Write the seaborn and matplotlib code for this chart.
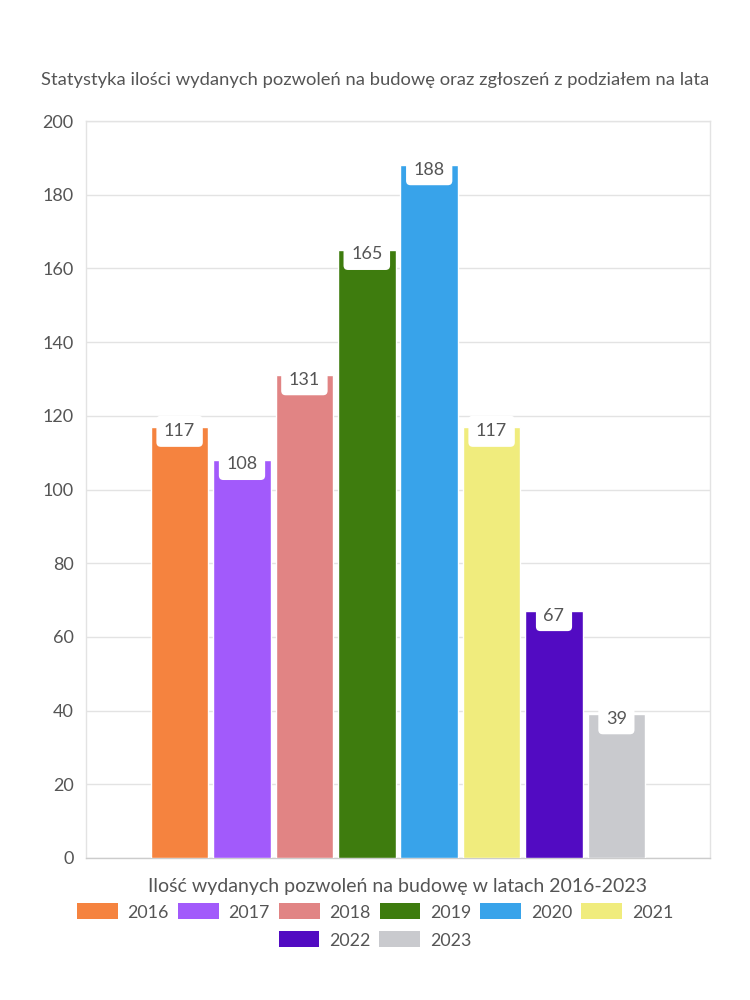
import matplotlib
matplotlib.use("Agg")
import matplotlib.pyplot as plt
import seaborn as sns
import pandas as pd
from matplotlib.patches import Patch

years = ["2016", "2017", "2018", "2019", "2020", "2021", "2022", "2023"]
values = [117, 108, 131, 165, 188, 117, 67, 39]
colors = ["#F5833F", "#A25AFB", "#E18484", "#3E7C0E", "#38A3EA", "#F0EC7D", "#520BC2", "#C9CACE"]
title = "Statystyka ilości wydanych pozwoleń na budowę oraz zgłoszeń z podziałem na lata"
xlabel = "Ilość wydanych pozwoleń na budowę w latach 2016-2023"
yticks = [0, 20, 40, 60, 80, 100, 120, 140, 160, 180, 200]

sns.set_style("white")
plt.rcParams["font.family"] = ["Lato", "DejaVu Sans"]
TXT = "#555555"
GRID = "#e3e3e3"

df = pd.DataFrame({"cat": [""] * len(years), "year": years, "value": values})

fig = plt.figure(figsize=(7.5, 10), dpi=100)
ax = fig.add_axes([86 / 750, 1 - 858 / 1000, (710 - 86) / 750, (858 - 121) / 1000])

sns.barplot(data=df, x="cat", y="value", hue="year", palette=colors, width=0.8,
            gap=0.08, saturation=1, legend=False, ax=ax, zorder=3)

ax.set_ylim(0, 200)
ax.set_xlim(-0.5, 0.5)
ax.set_yticks(yticks)
ax.set_yticklabels([str(t) for t in yticks], color=TXT, fontsize=13)
ax.set_xticks([-0.5, 0.5])
ax.set_xticklabels(["", ""])
ax.tick_params(axis="both", length=5, color=GRID, width=1)
ax.tick_params(axis="y", pad=4)
ax.yaxis.grid(True, color=GRID, linewidth=1, zorder=0)
ax.set_axisbelow(True)
for s in ax.spines.values():
    s.set_color(GRID)
    s.set_linewidth(1)
ax.spines["bottom"].set_color("#cccccc")
ax.set_ylabel("")
ax.set_xlabel(xlabel, color=TXT, fontsize=14, labelpad=6)

for cont in ax.containers:
    for p in cont:
        h = p.get_height()
        cx = p.get_x() + p.get_width() / 2
        ax.text(cx, h - 1.2, f"{int(round(h))}", ha="center", va="center", color=TXT,
                fontsize=13, zorder=5,
                bbox=dict(boxstyle="round,pad=0.42,rounding_size=0.25", fc="white", ec="none"))

fig.text(375 / 750, 1 - 80 / 1000, title, ha="center", va="center", color=TXT, fontsize=13.2)

handles = [Patch(facecolor=c, edgecolor="none") for c in colors]
kw = dict(loc="center", frameon=False, fontsize=12.8, handlelength=2.3, handleheight=1.0,
          columnspacing=0.5, handletextpad=0.55, labelcolor=TXT)
fig.legend(handles[:6], years[:6], bbox_to_anchor=(0.5, 1 - 912 / 1000), ncol=6, **kw)
fig.legend(handles[6:], years[6:], bbox_to_anchor=(0.5, 1 - 940 / 1000), ncol=2, **kw)

fig.savefig("out.png", dpi=100, facecolor="white")
